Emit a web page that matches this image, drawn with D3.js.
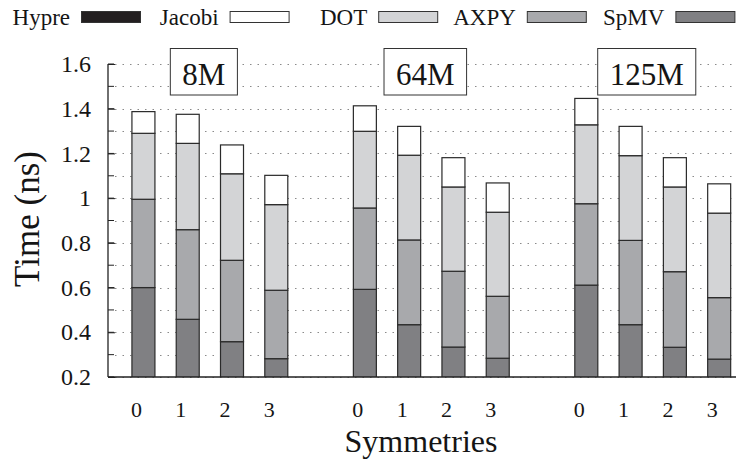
<!DOCTYPE html>
<html>
<head>
<meta charset="utf-8">
<script src="https://cdn.jsdelivr.net/npm/d3@7"></script>
<style>
body { margin: 0; background: #fff; }
svg text { font-family: 'Liberation Serif', 'Times New Roman', Times, serif; fill: #151515; }
</style>
</head>
<body>
<svg width="736" height="465"></svg>
<script>
// problem sizes (groups) and symmetry counts (bars within a group)
var sizes = ["8M", "64M", "125M"];
var symmetries = ["0", "1", "2", "3"];
var legendKeys = ["Hypre", "Jacobi", "DOT", "AXPY", "SpMV"];

// time per component (ns), one row per size, one value per symmetry
var spmv   = [[0.600, 0.458, 0.358, 0.282], [0.592, 0.434, 0.334, 0.284], [0.611, 0.434, 0.333, 0.280]];
var axpy   = [[0.395, 0.401, 0.364, 0.306], [0.364, 0.379, 0.339, 0.277], [0.364, 0.377, 0.338, 0.275]];
var dot    = [[0.295, 0.386, 0.387, 0.383], [0.343, 0.379, 0.377, 0.376], [0.353, 0.379, 0.379, 0.378]];
var jacobi = [[0.097, 0.130, 0.129, 0.131], [0.114, 0.129, 0.131, 0.131], [0.118, 0.131, 0.131, 0.131]];
var hypre  = [[0, 0, 0, 0], [0, 0, 0, 0], [0, 0, 0, 0]];

var yTicks = [0.2, 0.4, 0.6, 0.8, 1, 1.2, 1.4, 1.6];

var colors = {
	Hypre: "#231f20",
	Jacobi: "#ffffff",
	DOT: "#d3d4d6",
	AXPY: "#a8a9ac",
	SpMV: "#808083"
};

var serif = "'Liberation Serif', 'Times New Roman', Times, serif";

var svg = d3.select("svg");

var plotL = 108, plotR = 736, plotT = 64, plotB = 377;
var slotsPerGroup = symmetries.length + 1;

var x = d3.scaleLinear().domain([-0.8, 13.38]).range([plotL, plotR]);
var y = d3.scaleLinear().domain([0.2, 1.6]).range([plotB, plotT]);

// flatten into rows for stacking
var rows = [];
sizes.forEach(function(s, g) {
	symmetries.forEach(function(sym, k) {
		rows.push({
			slot: g * slotsPerGroup + k,
			sym: sym,
			SpMV: spmv[g][k],
			AXPY: axpy[g][k],
			DOT: dot[g][k],
			Jacobi: jacobi[g][k],
			Hypre: hypre[g][k]
		});
	});
});

var stacked = d3.stack().keys(["SpMV", "AXPY", "DOT", "Jacobi", "Hypre"])(rows);

svg.append("clipPath").attr("id", "plot")
	.append("rect")
	.attr("x", plotL).attr("y", plotT - 2)
	.attr("width", plotR - plotL).attr("height", plotB - plotT + 2);

// dotted grid
svg.append("g")
	.attr("class", "grid")
	.selectAll("line")
	.data(y.ticks(14))
	.enter().append("line")
	.attr("x1", plotL + 7)
	.attr("x2", plotR)
	.attr("y1", function(d) { return Math.round(y(d)) + 0.5; })
	.attr("y2", function(d) { return Math.round(y(d)) + 0.5; })
	.attr("stroke", "#8a8a8a")
	.attr("stroke-width", 1)
	.attr("stroke-dasharray", "1.5,6");

// bars
var barW = 23;
svg.append("g")
	.attr("clip-path", "url(#plot)")
	.selectAll("g")
	.data(stacked)
	.enter().append("g")
	.attr("fill", function(d) { return colors[d.key]; })
	.selectAll("rect")
	.data(function(d) { return d.filter(function(v) { return v[1] > v[0]; }); })
	.enter().append("rect")
	.attr("x", function(d) { return x(d.data.slot) - barW / 2; })
	.attr("width", barW)
	.attr("y", function(d) { return y(d[1]); })
	.attr("height", function(d) { return y(d[0]) - y(d[1]); })
	.attr("stroke", "#2a2a2a")
	.attr("stroke-width", 1.2);

// axes
var yAxis = svg.append("g")
	.attr("transform", "translate(" + plotL + ",0)")
	.call(d3.axisLeft(y).tickValues(yTicks).tickSize(-7).tickPadding(17).tickFormat(function(d) { return String(d); }));
yAxis.attr("font-family", serif).attr("font-size", 24);
yAxis.select(".domain").remove();
yAxis.selectAll(".tick line").attr("stroke", "#222");
yAxis.selectAll("text").attr("fill", "#151515");

svg.append("g")
	.attr("transform", "translate(" + plotL + ",0)")
	.selectAll("line")
	.data(y.ticks(14))
	.enter().append("line")
	.attr("x1", 0).attr("x2", 6)
	.attr("y1", function(d) { return y(d); })
	.attr("y2", function(d) { return y(d); })
	.attr("stroke", "#222");

svg.append("line")
	.attr("x1", plotL).attr("x2", plotL)
	.attr("y1", plotT).attr("y2", plotB)
	.attr("stroke", "#222").attr("stroke-width", 1.3);
svg.append("line")
	.attr("x1", plotL).attr("x2", plotR)
	.attr("y1", plotB).attr("y2", plotB)
	.attr("stroke", "#222").attr("stroke-width", 1.3);

// x tick labels (symmetries)
svg.append("g")
	.selectAll("text")
	.data(rows)
	.enter().append("text")
	.attr("x", function(d) { return x(d.slot) - 7; })
	.attr("y", 417)
	.attr("text-anchor", "middle")
	.attr("font-size", 22)
	.text(function(d) { return d.sym; });

// group labels in boxes
var groupLabel = svg.append("g")
	.selectAll("g")
	.data(sizes)
	.enter().append("g")
	.attr("transform", function(d, g) {
		return "translate(" + (x(g * slotsPerGroup + (symmetries.length - 1) / 2) - 6) + ",0)";
	});
groupLabel.append("rect")
	.attr("y", 48.5).attr("height", 46.5)
	.attr("fill", "#fff")
	.attr("stroke", "#333")
	.attr("stroke-width", 1);
groupLabel.append("text")
	.attr("y", 85)
	.attr("text-anchor", "middle")
	.attr("font-size", 31)
	.text(function(d) { return d; });
groupLabel.each(function() {
	var w = d3.select(this).select("text").node().getComputedTextLength() + 24;
	d3.select(this).select("rect").attr("x", -w / 2).attr("width", w);
});

// legend
var legend = svg.append("g")
	.selectAll("g")
	.data(legendKeys)
	.enter().append("g")
	.attr("transform", function(d, i) { return "translate(" + (81 + i * 148.6) + ",0)"; });
legend.append("rect")
	.attr("x", 0.5).attr("y", 11.5)
	.attr("width", 59).attr("height", 11)
	.attr("fill", function(d) { return colors[d]; })
	.attr("stroke", "#333")
	.attr("stroke-width", 1);
legend.append("text")
	.attr("x", -11).attr("y", 25)
	.attr("text-anchor", "end")
	.attr("font-size", 23)
	.text(function(d) { return d; });

// axis titles
svg.append("text")
	.attr("transform", "translate(39,219) rotate(-90)")
	.attr("text-anchor", "middle")
	.attr("font-size", 35)
	.text("Time (ns)");
svg.append("text")
	.attr("x", 421).attr("y", 452)
	.attr("text-anchor", "middle")
	.attr("font-size", 32)
	.text("Symmetries");
</script>
</body>
</html>
